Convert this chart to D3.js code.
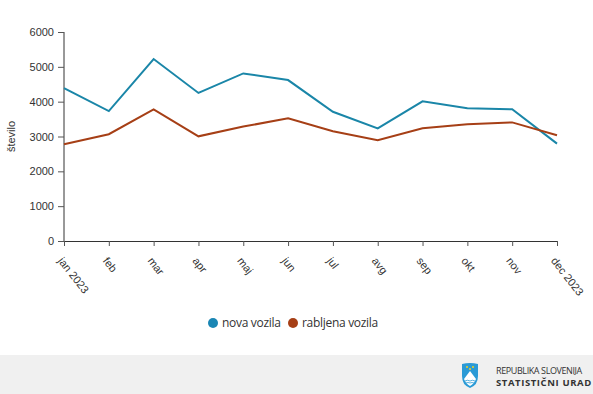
<!DOCTYPE html>
<html>
<head>
<meta charset="utf-8">
<script src="https://cdn.jsdelivr.net/npm/d3@7"></script>
<style>
  body { margin: 0; background: #fff; }
  svg { display: block; font-family: "Liberation Sans", Arial, sans-serif; }
</style>
</head>
<body>
<div id="chart"></div>
<script>
const months = ["jan 2023", "feb", "mar", "apr", "maj", "jun", "jul", "avg", "sep", "okt", "nov", "dec 2023"];
const novaVozila = [4390, 3730, 5225, 4250, 4810, 4620, 3710, 3235, 4010, 3810, 3780, 2795];
const rabljenaVozila = [2775, 3065, 3780, 3005, 3285, 3520, 3150, 2890, 3235, 3350, 3405, 3035];
const yTicks = [0, 1000, 2000, 3000, 4000, 5000, 6000];

const series = [
    { name: "nova vozila", values: novaVozila, color: "#1a86a8", dot: "#1a86b4" },
    { name: "rabljena vozila", values: rabljenaVozila, color: "#a63f16", dot: "#a63f16" }
];

const width = 593;
const height = 394;
const margin = { top: 32, left: 64, right: 36, bottom: 153 };
const axisFont = "'Liberation Sans', Arial, sans-serif";

const svg = d3.select("#chart").append("svg")
    .attr("width", width)
    .attr("height", height);

const x = d3.scalePoint()
    .domain(months)
    .range([margin.left, width - margin.right]);

const y = d3.scaleLinear()
    .domain([0, 6000])
    .range([height - margin.bottom, margin.top]);

// y axis
const yAxis = svg.append("g")
    .attr("transform", `translate(${margin.left},0)`)
    .call(d3.axisLeft(y).tickValues(yTicks).tickSize(6).tickPadding(4).tickFormat(d3.format("d")))
    .attr("font-family", axisFont);
yAxis.select(".domain").attr("stroke", "#333").attr("d", `M0,${y(6000)}V${y(0)}`);
yAxis.selectAll(".tick line").attr("stroke", "#555");
yAxis.selectAll("text").attr("fill", "#333").style("font-size", "11px");

// x axis
const xAxis = svg.append("g")
    .attr("transform", `translate(0,${y(0)})`)
    .call(d3.axisBottom(x).tickSize(5).tickSizeOuter(0))
    .attr("font-family", axisFont);
xAxis.select(".domain").attr("stroke", "#333");
xAxis.selectAll(".tick line").attr("stroke", "#555");
xAxis.selectAll("text")
    .attr("fill", "#333")
    .style("font-size", "11px")
    .attr("text-anchor", "start")
    .attr("y", 0)
    .attr("dy", 0)
    .attr("transform", "translate(-7,20) rotate(52)");

// y label
svg.append("text")
    .attr("transform", `translate(15,${(y(0) + y(6000)) / 2}) rotate(-90)`)
    .attr("text-anchor", "middle")
    .attr("fill", "#333")
    .style("font-size", "11px")
    .text("število");

// lines
const line = d3.line()
    .x((d, i) => x(months[i]))
    .y(d => y(d));

svg.append("g")
    .selectAll("path")
    .data(series)
    .join("path")
    .attr("fill", "none")
    .attr("stroke", d => d.color)
    .attr("stroke-width", 2)
    .attr("stroke-linejoin", "miter")
    .attr("d", d => line(d.values));

// legend
const legend = svg.append("g")
    .attr("transform", "translate(213,323)")
    .style("font-family", "'Open Sans', sans-serif");
const legendX = [0, 80];
const item = legend.selectAll("g")
    .data(series)
    .join("g")
    .attr("transform", (d, i) => `translate(${legendX[i]},0)`);
item.append("circle")
    .attr("r", 5)
    .attr("fill", d => d.dot);
item.append("text")
    .attr("x", 9)
    .attr("dy", "0.35em")
    .attr("fill", "#333")
    .style("font-size", "12px")
    .style("letter-spacing", "-0.3px")
    .text(d => d.name);

// footer
svg.append("rect")
    .attr("x", 0)
    .attr("y", 355)
    .attr("width", width)
    .attr("height", height - 355)
    .attr("fill", "#f0f0f0");

// coat of arms shield
const logo = svg.append("g").attr("transform", "translate(462,363)");
logo.append("path")
    .attr("d", "M0,1 Q8,-1 16,1 L16,13 Q16,22 8,25 Q0,22 0,13 Z")
    .attr("fill", "#2a9ad6");
logo.append("path")
    .attr("d", "M2,16 L5,12 L8,8 L11,12 L14,16 Q12,21 8,23 Q4,21 2,16 Z")
    .attr("fill", "#fff");
logo.append("path")
    .attr("d", "M3,18 Q5.5,16.5 8,18 Q10.5,16.5 13,18 M4,20 Q6,19 8,20 Q10,19 12,20")
    .attr("fill", "none")
    .attr("stroke", "#2a9ad6")
    .attr("stroke-width", 0.8);
[[5, 4], [8, 6], [11, 4]].forEach(p => {
    logo.append("circle").attr("cx", p[0]).attr("cy", p[1]).attr("r", 1).attr("fill", "#f2d21b");
});

svg.append("text")
    .attr("x", 496)
    .attr("y", 374)
    .attr("fill", "#333")
    .style("font-family", "'Open Sans', sans-serif")
    .style("font-size", "9px")
    .style("letter-spacing", "-0.4px")
    .text("REPUBLIKA SLOVENIJA");
svg.append("text")
    .attr("x", 496)
    .attr("y", 386)
    .attr("fill", "#333")
    .style("font-family", "'Open Sans', sans-serif")
    .style("font-size", "9.5px")
    .style("font-weight", "bold")
    .style("letter-spacing", "0.6px")
    .text("STATISTIČNI URAD");
</script>
</body>
</html>
